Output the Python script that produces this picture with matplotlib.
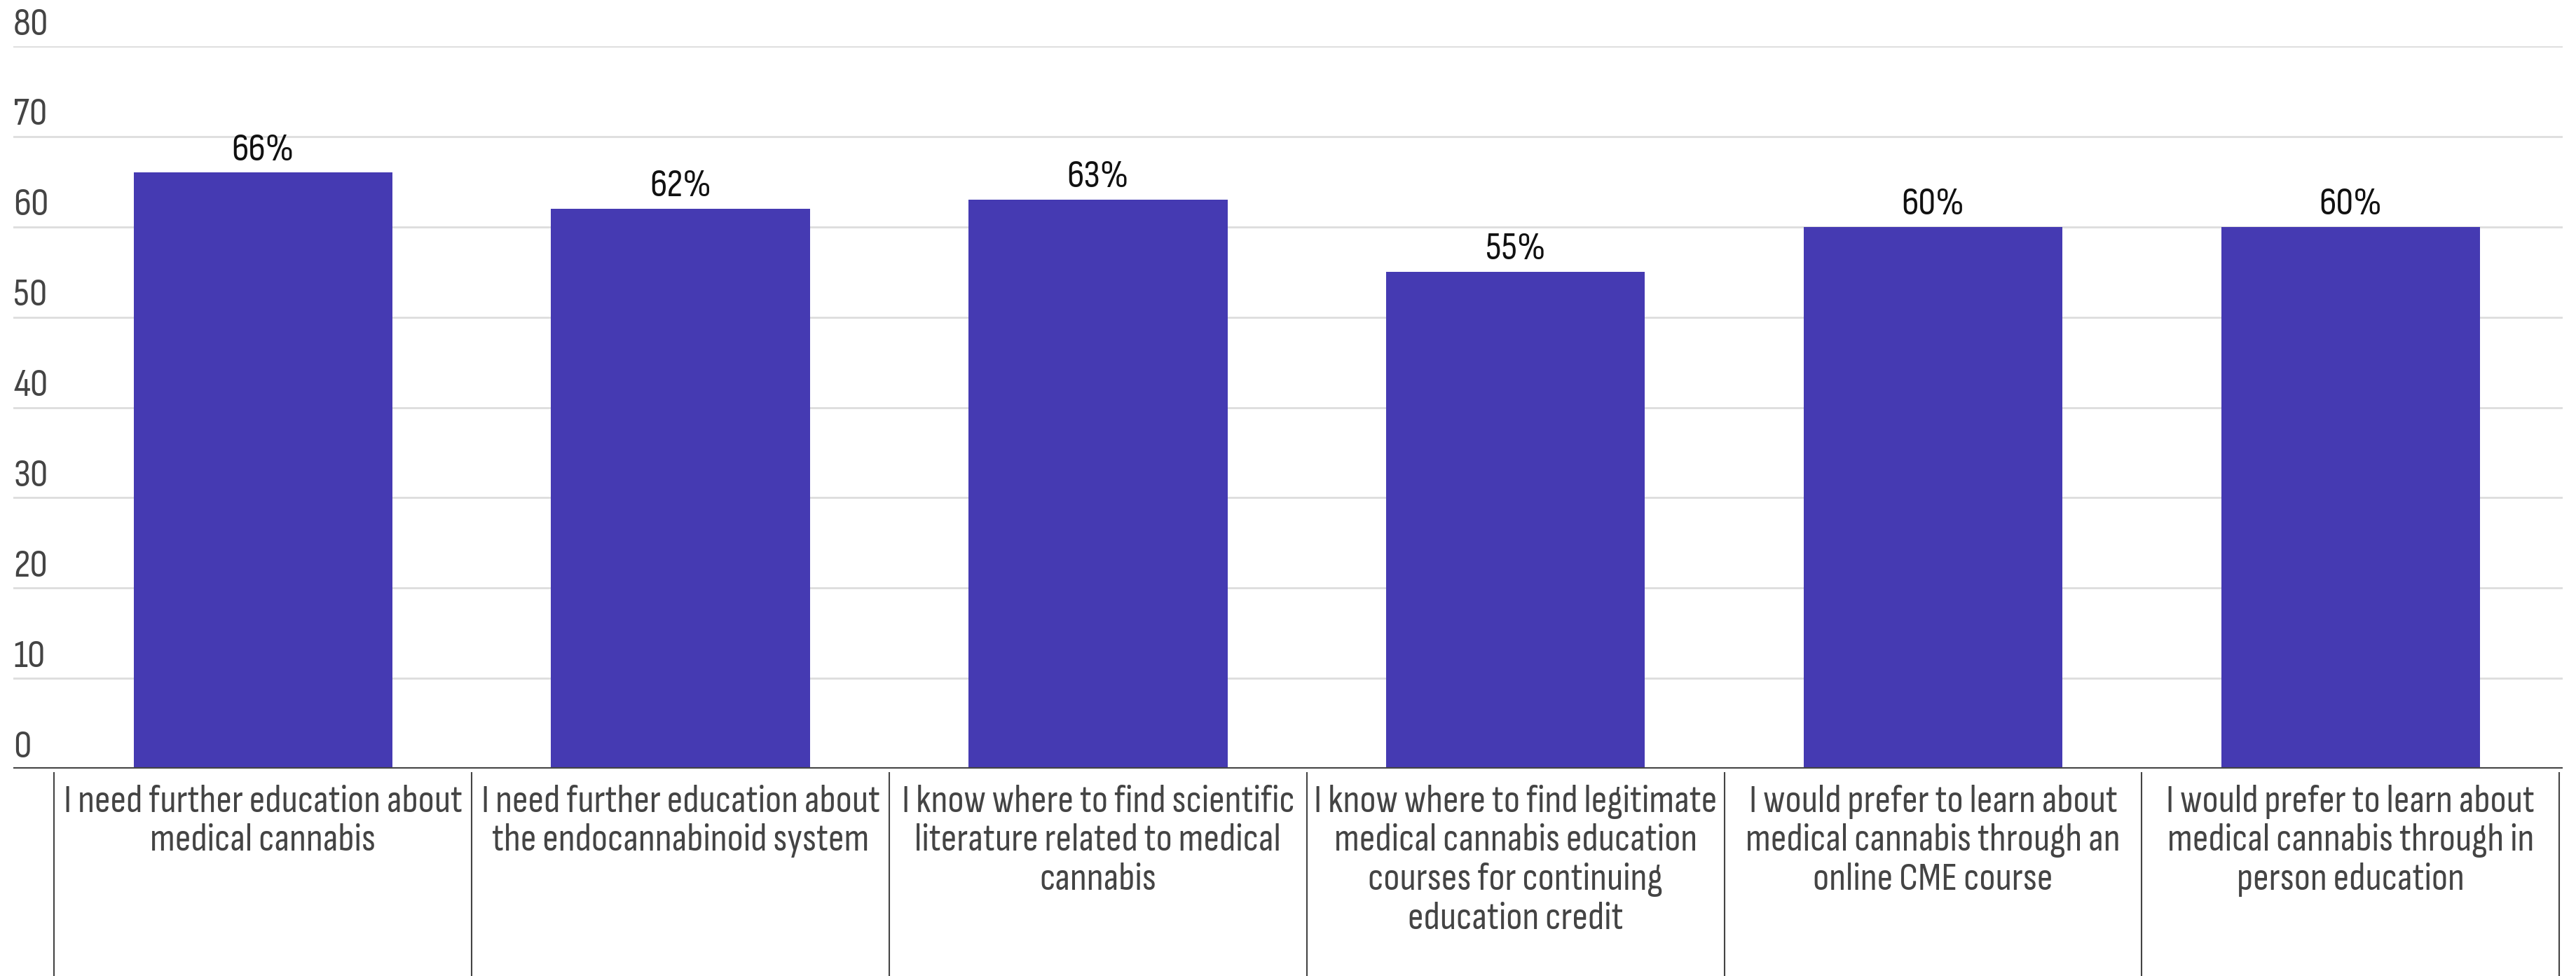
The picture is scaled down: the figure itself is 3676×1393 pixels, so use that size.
import matplotlib
matplotlib.use("Agg")
import matplotlib.pyplot as plt
from matplotlib import font_manager

# данные
categories = [
    "I need further education about\nmedical cannabis",
    "I need further education about\nthe endocannabinoid system",
    "I know where to find scientific\nliterature related to medical\ncannabis",
    "I know where to find legitimate\nmedical cannabis education\ncourses for continuing\neducation credit",
    "I would prefer to learn about\nmedical cannabis through an\nonline CME course",
    "I would prefer to learn about\nmedical cannabis through in\nperson education",
]
values = [66, 62, 63, 55, 60, 60]
y_ticks = [0, 10, 20, 30, 40, 50, 60, 70, 80]

names = {f.name for f in font_manager.fontManager.ttflist}
prefer = ['Ubuntu Condensed', 'Sofia Sans Condensed', 'Pragati Narrow', 'Archivo Narrow', 'Roboto Condensed']
fonts = [f for f in prefer if f in names][:1] + ['DejaVu Sans']
plt.rcParams['font.family'] = fonts

W, H = 3676, 1393
fig = plt.figure(figsize=(W / 100, H / 100), dpi=100)
ax = fig.add_axes([19 / W, (H - 1097) / H, (3657 - 19) / W, (1097 - 66) / H])

# подбор размера шрифта по ширине первой строки
probe = fig.text(0, 0, "I need further education about", fontsize=30)
r = fig.canvas.get_renderer()
w = probe.get_window_extent(r).width
probe.remove()
fs = 30 * 570 / w

x = list(range(len(values)))
ax.bar(x, values, width=0.62, color='#453AB2', zorder=3)

ax.set_ylim(0, 80)
ax.set_xlim(-0.598, 5.508)

for t in y_ticks[1:]:
    ax.axhline(t, color='#dddddd', lw=2, zorder=1)
ax.axhline(0, color='#444444', lw=3, zorder=4)

for t in y_ticks:
    ax.text(0.0, t + 0.5, str(t), transform=ax.get_yaxis_transform(),
            ha='left', va='bottom', fontsize=fs * 1.02, color='#444444')

for xi, v in zip(x, values):
    ax.text(xi, v + 0.6, f"{v}%", ha='center', va='bottom', fontsize=fs * 1.0, color='#111111')

# разделители категорий под осью
seps = [i - 0.5 for i in range(len(values) + 1)]
ax.vlines(seps, -0.3, -0.005, transform=ax.get_xaxis_transform(),
          colors='#444444', lw=1.5, clip_on=False)

for xi, lab in zip(x, categories):
    ax.text(xi, -0.022, lab, transform=ax.get_xaxis_transform(), ha='center', va='top',
            fontsize=fs, color='#444444', linespacing=1.17)

ax.set_xticks([])
ax.set_yticks([])
for s in ax.spines.values():
    s.set_visible(False)

fig.savefig("out.png", dpi=100)
